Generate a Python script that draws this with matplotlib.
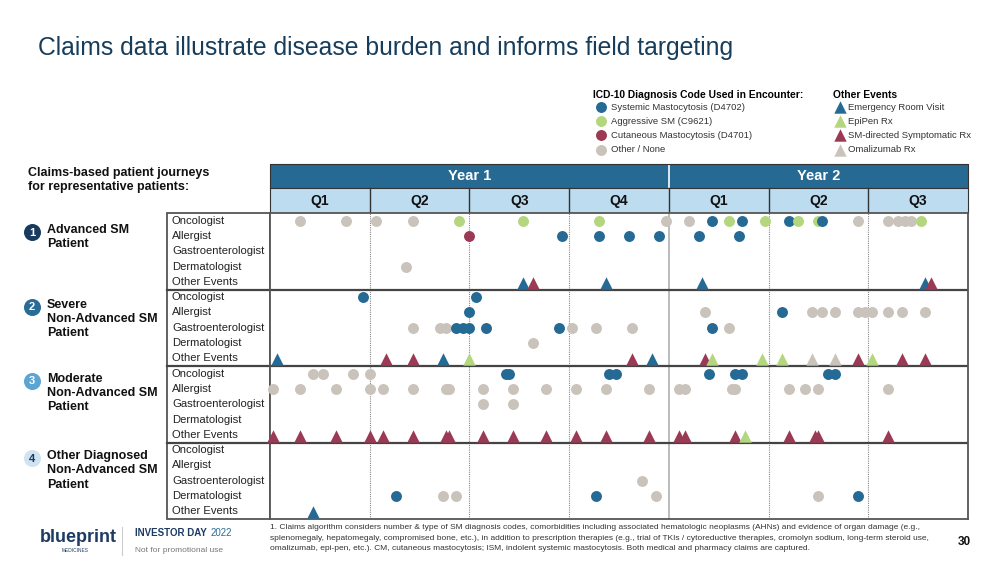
import matplotlib
matplotlib.use("Agg")
import matplotlib.pyplot as plt
from matplotlib.patches import Rectangle

plt.rcParams['font.family'] = ['Liberation Sans', 'DejaVu Sans']

# ---- data: months since start of Year 1 (7 quarters = 21 months) ----
rows = ["Oncologist", "Allergist", "Gastroenterologist", "Dermatologist", "Other Events"]
quarters = ["Q1", "Q2", "Q3", "Q4", "Q1", "Q2", "Q3"]
years = ["Year 1", "Year 2"]
patients = ["Advanced SM\nPatient", "Severe\nNon-Advanced SM\nPatient",
            "Moderate\nNon-Advanced SM\nPatient", "Other Diagnosed\nNon-Advanced SM\nPatient"]

# visit codes: s = systemic, a = aggressive, c = cutaneous, o = other/none
p1_visits = {
    "Oncologist": [(0.9, "o"), (2.3, "o"), (3.2, "o"), (4.3, "o"), (5.7, "a"), (7.6, "a"), (9.9, "a"),
                   (11.9, "o"), (12.6, "o"), (13.3, "s"), (13.8, "a"), (14.2, "s"), (14.9, "a"), (15.6, "s"),
                   (15.9, "a"), (16.5, "a"), (16.6, "s"), (17.7, "o"), (18.6, "o"), (18.9, "o"), (19.1, "o"),
                   (19.3, "o"), (19.6, "a")],
    "Allergist": [(6.0, "c"), (8.8, "s"), (9.9, "s"), (10.8, "s"), (11.7, "s"), (12.9, "s"), (14.1, "s")],
    "Dermatologist": [(4.1, "o")],
}
# events: er = ER visit, epi = EpiPen, sm = SM-directed Rx, oma = omalizumab
p1_events = [(7.6, "er"), (7.9, "sm"), (10.1, "er"), (13.0, "er"), (19.7, "er"), (19.9, "sm")]

p2_visits = {
    "Oncologist": [(2.8, "s"), (6.2, "s")],
    "Allergist": [(6.0, "s"), (13.1, "o"), (15.4, "s"), (16.3, "o"), (16.6, "o"), (17.0, "o"), (17.7, "o"),
                  (17.9, "o"), (18.1, "o"), (18.6, "o"), (19.0, "o"), (19.7, "o")],
    "Gastroenterologist": [(4.3, "o"), (5.1, "o"), (5.3, "o"), (5.6, "s"), (5.8, "s"), (6.0, "s"), (6.5, "s"),
                           (8.7, "s"), (9.1, "o"), (9.8, "o"), (10.9, "o"), (13.3, "s"), (13.8, "o")],
    "Dermatologist": [(7.9, "o")],
}
p2_events = [(0.2, "er"), (3.5, "sm"), (4.3, "sm"), (5.2, "er"), (6.0, "epi"), (10.9, "sm"), (11.5, "er"),
             (13.1, "sm"), (13.3, "epi"), (14.8, "epi"), (15.4, "epi"), (16.3, "oma"), (17.0, "oma"),
             (17.7, "sm"), (18.1, "epi"), (19.0, "sm"), (19.7, "sm")]

p3_visits = {
    "Oncologist": [(1.3, "o"), (1.6, "o"), (2.5, "o"), (3.0, "o"), (7.1, "s"), (7.2, "s"), (10.2, "s"),
                   (10.4, "s"), (13.2, "s"), (14.0, "s"), (14.2, "s"), (16.8, "s"), (17.0, "s")],
    "Allergist": [(0.1, "o"), (0.9, "o"), (2.0, "o"), (3.0, "o"), (3.4, "o"), (4.3, "o"), (5.3, "o"),
                  (5.4, "o"), (6.4, "o"), (7.3, "o"), (8.3, "o"), (9.2, "o"), (10.1, "o"), (11.4, "o"),
                  (12.3, "o"), (12.5, "o"), (13.9, "o"), (14.0, "o"), (15.6, "o"), (16.1, "o"), (16.5, "o"),
                  (18.6, "o")],
    "Gastroenterologist": [(6.4, "o"), (7.3, "o")],
}
p3_events = [(0.1, "sm"), (0.9, "sm"), (2.0, "sm"), (3.0, "sm"), (3.4, "sm"), (4.3, "sm"), (5.3, "sm"),
             (5.4, "sm"), (6.4, "sm"), (7.3, "sm"), (8.3, "sm"), (9.2, "sm"), (10.1, "sm"), (11.4, "sm"),
             (12.3, "sm"), (12.5, "sm"), (14.0, "sm"), (14.3, "epi"), (15.6, "sm"), (16.4, "sm"),
             (16.5, "sm"), (18.6, "sm")]

p4_visits = {
    "Gastroenterologist": [(11.2, "o")],
    "Dermatologist": [(3.8, "s"), (5.2, "o"), (5.6, "o"), (9.8, "s"), (11.6, "o"), (16.5, "o"), (17.7, "s")],
}
p4_events = [(1.3, "er")]

all_visits = [p1_visits, p2_visits, p3_visits, p4_visits]
all_events = [p1_events, p2_events, p3_events, p4_events]

code_colors = {"s": "#256a94", "a": "#b3d67e", "c": "#9a3a55", "o": "#c9c3bb"}
code_names = {"s": "Systemic Mastocytosis (D4702)", "a": "Aggressive SM (C9621)",
              "c": "Cutaneous Mastocytosis (D4701)", "o": "Other / None"}
event_colors = {"er": "#256a94", "epi": "#b3d67e", "sm": "#9a3a55", "oma": "#c9c3bb"}
event_names = {"er": "Emergency Room Visit", "epi": "EpiPen Rx",
               "sm": "SM-directed Symptomatic Rx", "oma": "Omalizumab Rx"}
badge_colors = ["#173a5e", "#2a6c96", "#5ca4d2", "#cfe3f2"]

# ---- figure ----
fig = plt.figure(figsize=(10, 5.68), dpi=100)
bg = fig.add_axes([0, 0, 1, 1])
bg.set_xlim(0, 1000)
bg.set_ylim(568, 0)
bg.axis('off')

x0, x1, ytop, ybot = 270, 968, 213, 519
ax = fig.add_axes([x0 / 1000, 1 - ybot / 568, (x1 - x0) / 1000, (ybot - ytop) / 568])
ax.set_xlim(0, 21)
ax.set_ylim(20, 0)
ax.set_xticks([])
ax.set_yticks([])
for s in ax.spines.values():
    s.set_color('#555555')
    s.set_linewidth(1.3)

# quarter dividers
for q in range(1, 7):
    if q == 4:
        ax.axvline(3 * q, color='#b0b0b0', lw=1.2, zorder=1)
    else:
        ax.axvline(3 * q, color='#888888', lw=0.8, ls=(0, (1, 1)), zorder=1)
for k in range(1, 4):
    ax.axhline(5 * k, color='#444444', lw=1.6, zorder=2)

# markers
for k in range(4):
    for r, name in enumerate(rows[:4]):
        for m, c in all_visits[k].get(name, []):
            ax.scatter(m, 5 * k + r + 0.5, s=62, color=code_colors[c], marker='o',
                       linewidths=0, zorder=3, clip_on=False)
    for m, e in all_events[k]:
        ax.scatter(m, 5 * k + 4.55, s=80, color=event_colors[e], marker='^',
                   linewidths=0, zorder=3, clip_on=False)

# ---- header ----
qw = (x1 - x0) / 7
bg.add_patch(Rectangle((x0, 164), x1 - x0, 24, color='#266a93', lw=0))
bg.add_patch(Rectangle((x0, 188), x1 - x0, 25, color='#bddcef', lw=0))
bg.plot([x0 + 4 * qw] * 2, [164, 188], color='white', lw=1.2)
bg.text(x0 + 2 * qw, 176, years[0], color='white', fontsize=10.5, fontweight='bold', ha='center', va='center')
bg.text(x0 + 5.5 * qw, 176, years[1], color='white', fontsize=10.5, fontweight='bold', ha='center', va='center')
for i, q in enumerate(quarters):
    bg.text(x0 + (i + 0.5) * qw, 200.5, q, fontsize=10, fontweight='bold', ha='center', va='center', color='#111111')
    if i > 0:
        bg.plot([x0 + i * qw] * 2, [188, 213], color='#333333', lw=1)
bg.plot([x0, x1], [188, 188], color='#333333', lw=0.8)
bg.plot([x0, x0, x1, x1], [213, 164, 164, 213], color='#333333', lw=0.8)

# ---- row label column ----
bg.add_patch(Rectangle((167, ytop), x0 - 167, ybot - ytop, fill=False, ec='#555555', lw=1.3))
rh = (ybot - ytop) / 20
for k in range(4):
    for r, name in enumerate(rows):
        bg.text(172, ytop + (5 * k + r + 0.5) * rh, name, fontsize=8.1, va='center', color='#222222')
    if k > 0:
        bg.plot([167, x0], [ytop + 5 * k * rh] * 2, color='#444444', lw=1.6)

# ---- patient labels ----
bg.text(28, 180, "Claims-based patient journeys\nfor representative patients:", fontsize=9,
        fontweight='bold', va='center', linespacing=1.2, color='#111111')
badge_y = [232, 307, 381, 458]
for k in range(4):
    bg.scatter(32, badge_y[k], s=150, color=badge_colors[k], linewidths=0)
    bg.text(32, badge_y[k] + 0.5, str(k + 1), fontsize=8, fontweight='bold', ha='center', va='center',
            color='white' if k < 3 else '#173a5e')
    bg.text(47, badge_y[k] - 8, patients[k], fontsize=9, fontweight='bold', va='top',
            linespacing=1.25, color='#111111')

# ---- legend ----
bg.text(593, 95, "ICD-10 Diagnosis Code Used in Encounter:", fontsize=7.4, fontweight='bold', va='center')
bg.text(833, 95, "Other Events", fontsize=7.4, fontweight='bold', va='center')
leg_y = [107, 121, 135, 150]
for i, c in enumerate(["s", "a", "c", "o"]):
    bg.scatter(601, leg_y[i], s=62, color=code_colors[c], linewidths=0)
    bg.text(611, leg_y[i], code_names[c], fontsize=6.8, va='center', color='#333333')
for i, e in enumerate(["er", "epi", "sm", "oma"]):
    bg.scatter(840, leg_y[i], s=80, color=event_colors[e], marker='^', linewidths=0)
    bg.text(848, leg_y[i], event_names[e], fontsize=6.8, va='center', color='#333333')

# ---- title ----
bg.text(38, 48, "Claims data illustrate disease burden and informs field targeting",
        fontsize=17.8, va='center', color='#173d5b')

# ---- footer ----
bg.text(40, 538, "blueprint", fontsize=13, fontweight='bold', color='#1d3b63', va='center')
bg.text(62, 550, "MEDICINES", fontsize=3.5, color='#1d3b63', va='center')
bg.plot([122, 122], [527, 555], color='#cccccc', lw=0.8)
inv = bg.text(135, 533, "INVESTOR DAY", fontsize=7, fontweight='bold', color='#1d3b63', va='center')
bg.annotate("2022", xy=(1, 0.5), xycoords=inv, xytext=(2.5, 0), textcoords='offset points',
            fontsize=7, color='#2a6c96', va='center')
bg.text(135, 550, "Not for promotional use", fontsize=6, color='#777777', va='center')
footnote = ("1. Claims algorithm considers number & type of SM diagnosis codes, comorbidities including associated "
            "hematologic neoplasms (AHNs) and evidence of organ damage (e.g.,\n"
            "splenomegaly, hepatomegaly, compromised bone, etc.), in addition to prescription therapies (e.g., trial "
            "of TKIs / cytoreductive therapies, cromolyn sodium, long-term steroid use,\n"
            "omalizumab, epi-pen, etc.). CM, cutaneous mastocytosis; ISM, indolent systemic mastocytosis. Both "
            "medical and pharmacy claims are captured.")
bg.text(270, 538, footnote, fontsize=6.0, va='center', linespacing=1.65, color='#333333')
bg.text(958, 542, "30", fontsize=8.5, fontweight='bold', va='center', color='#111111')

fig.savefig("out.png", dpi=100)
